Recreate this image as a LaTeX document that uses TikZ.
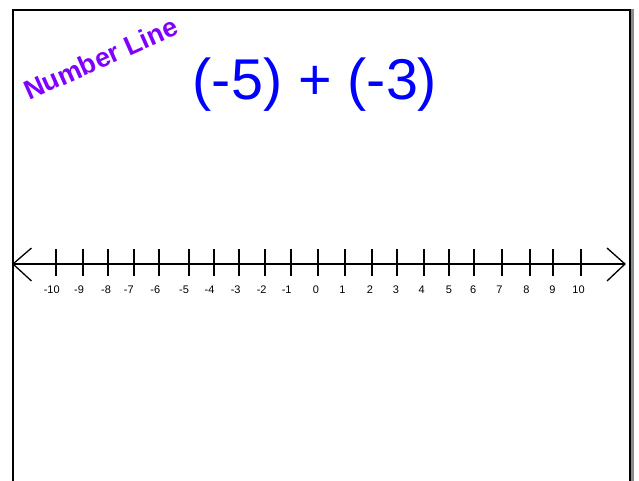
\documentclass[tikz,border=0pt]{standalone}
\usepackage{fontspec}
\setmainfont{Liberation Sans}
\definecolor{titleblue}{RGB}{0,0,255}
\definecolor{nlpurple}{RGB}{128,0,255}
\definecolor{shadowgray}{RGB}{140,140,140}
\begin{document}
\begin{tikzpicture}[x=1pt,y=-1pt,
  framestyle/.style={line width=2pt,black},
  axisline/.style={line width=1.3pt,black},
  tickmark/.style={line width=2.3pt,black},
  ticklabel/.style={font=\fontsize{11}{13}\selectfont,inner sep=0pt}]
\useasboundingbox (0,0) rectangle (639,481);
\fill[white] (0,0) rectangle (639,481);
% frame
\draw[shadowgray,line width=3pt] (632.5,9) -- (632.5,481);
\draw[framestyle] (12.5,481) -- (12.5,10) -- (630,10) -- (630,481);
% title texts
\node[text=titleblue,font=\fontsize{57.5}{66}\selectfont,anchor=base,inner sep=0pt] (title) at (315,100) {(-5) + (-3)};
\node[text=nlpurple,font=\bfseries\fontsize{27}{32}\selectfont,anchor=base west,rotate=24,inner sep=0pt] (nl) at (29,101) {Number Line};
% axis
\coordinate (L) at (13,264);
\coordinate (R) at (625,264);
\draw[axisline] (L) -- (R);
\draw[axisline,line join=miter] (31.5,248) -- (L) -- (31.5,281);
\draw[axisline,line join=miter] (607,248) -- (R) -- (607,281);
\foreach \n/\tx/\lx in {-10/56/51.7,-9/82.7/79,-8/108.3/106,-7/134/128.8,-6/159.3/155.3,-5/188.7/184,-4/214/209.5,-3/239/235.7,-2/265/261.7,-1/290.7/286.7,0/318.3/316,1/345/342.5,2/371.7/370,3/396.7/396,4/424/421.7,5/449.3/449,6/474/473.3,7/501.7/499.5,8/530/526.5,9/553.3/552.5,10/580.7/578.5}{
  \draw[tickmark] (\tx,249) -- (\tx,276);
  \node[ticklabel] (lab\n) at (\lx,290) {\n};
}
\end{tikzpicture}
\end{document}
